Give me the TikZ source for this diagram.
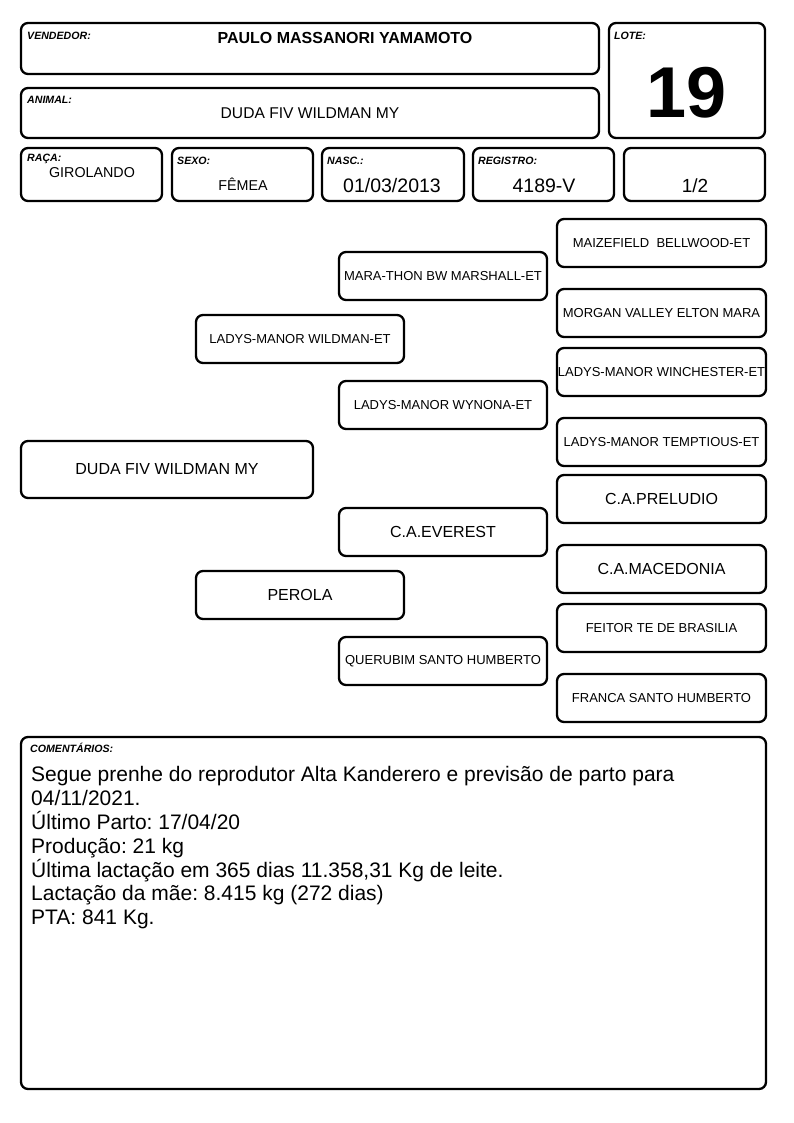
\documentclass[tikz,border=0pt]{standalone}
\usepackage{fontspec}
\setmainfont{Liberation Sans}
\frenchspacing
\begin{document}
\begin{tikzpicture}[x=1pt,y=-1pt,
  box/.style={draw=black,line width=2.3pt,rounded corners=7pt,inner sep=0pt},
  lbl/.style={anchor=base west,inner sep=0pt,font=\fontsize{10.6}{12}\selectfont\bfseries\itshape},
  hd/.style={font=\fontsize{14.3}{16}\selectfont,inner sep=0pt},
  lg/.style={font=\fontsize{19.5}{22}\selectfont,inner sep=0pt},
  sm/.style={font=\fontsize{13}{15}\selectfont,inner sep=0pt},
  md/.style={font=\fontsize{16}{18}\selectfont,inner sep=0pt},
  sire/.style={box,minimum width=208pt,minimum height=48pt},
  gp/.style={box,minimum width=209pt,minimum height=48pt}]
\useasboundingbox[fill=white] (0,0) rectangle (794,1123);
% header boxes
\draw[box] (21,23) rectangle (599,74);
\node[lbl] (lv) at (27,40) {VENDEDOR:};
\node[font=\fontsize{16}{18}\selectfont\bfseries,inner sep=0pt] (vend) at (345,38) {PAULO MASSANORI YAMAMOTO};
\draw[box] (21,88) rectangle (599,138);
\node[lbl] (la) at (27,104) {ANIMAL:};
\node[font=\fontsize{15.6}{18}\selectfont,inner sep=0pt] (anim) at (310,113) {DUDA FIV WILDMAN MY};
\draw[box] (609,23) rectangle (765,138);
\node[lbl] (ll) at (614,40) {LOTE:};
\node[font=\fontsize{72}{76}\selectfont\bfseries,inner sep=0pt] (lote) at (687,93) {19};
\draw[box] (21,148) rectangle (162,201);
\node[lbl] (lr) at (27,162) {RAÇA:};
\node[hd] (raca) at (92,173) {GIROLANDO};
\draw[box] (172,148) rectangle (313,201);
\node[lbl] (ls) at (177,165) {SEXO:};
\node[hd] (sexo) at (243,184) {FÊMEA};
\draw[box] (322,148) rectangle (464,201);
\node[lbl] (ln) at (327,165) {NASC.:};
\node[lg] (nasc) at (392,186) {01/03/2013};
\draw[box] (473,148) rectangle (614,201);
\node[lbl] (lg) at (478,165) {REGISTRO:};
\node[lg] (reg) at (544,186) {4189-V};
\draw[box] (624,148) rectangle (765,201);
\node[lg,font=\fontsize{19}{22}\selectfont] (frac) at (695,186) {1/2};
% pedigree
\node[gp,sm] (p1) at (661.5,243) {MAIZEFIELD\ \ BELLWOOD-ET};
\node[sire,sm] (s1) at (443,276) {MARA-THON BW MARSHALL-ET};
\node[gp,sm] (p2) at (661.5,313) {MORGAN VALLEY ELTON MARA};
\node[sire,sm] (f) at (300,339) {LADYS-MANOR WILDMAN-ET};
\node[gp,sm] (p3) at (661.5,372) {LADYS-MANOR WINCHESTER-ET};
\node[sire,sm] (s2) at (443,405) {LADYS-MANOR WYNONA-ET};
\node[gp,sm] (p4) at (661.5,442) {LADYS-MANOR TEMPTIOUS-ET};
\node[box,minimum width=292pt,minimum height=57pt,md] (duda) at (167,469.5) {DUDA FIV WILDMAN MY};
\node[gp,md] (p5) at (661.5,499) {C.A.PRELUDIO};
\node[sire,md] (s3) at (443,532) {C.A.EVEREST};
\node[gp,md] (p6) at (661.5,569) {C.A.MACEDONIA};
\node[sire,md] (m) at (300,595) {PEROLA};
\node[gp,sm] (p7) at (661.5,628) {FEITOR TE DE BRASILIA};
\node[sire,sm] (s4) at (443,661) {QUERUBIM SANTO HUMBERTO};
\node[gp,sm] (p8) at (661.5,698) {FRANCA SANTO HUMBERTO};
% comments
\draw[box] (21,737) rectangle (766,1089);
\node[lbl] (lc) at (30,752) {COMENTÁRIOS:};
\node[anchor=north west,inner sep=0pt,align=left,font=\fontsize{21}{23.8}\selectfont] (com) at (31,766.5) {Segue prenhe do reprodutor Alta Kanderero e previsão de parto para\\04/11/2021.\\Último Parto: 17/04/20\\Produção: 21 kg\\Última lactação em 365 dias 11.358,31 Kg de leite.\\Lactação da mãe: 8.415 kg (272 dias)\\PTA: 841 Kg.};
\end{tikzpicture}
\end{document}
